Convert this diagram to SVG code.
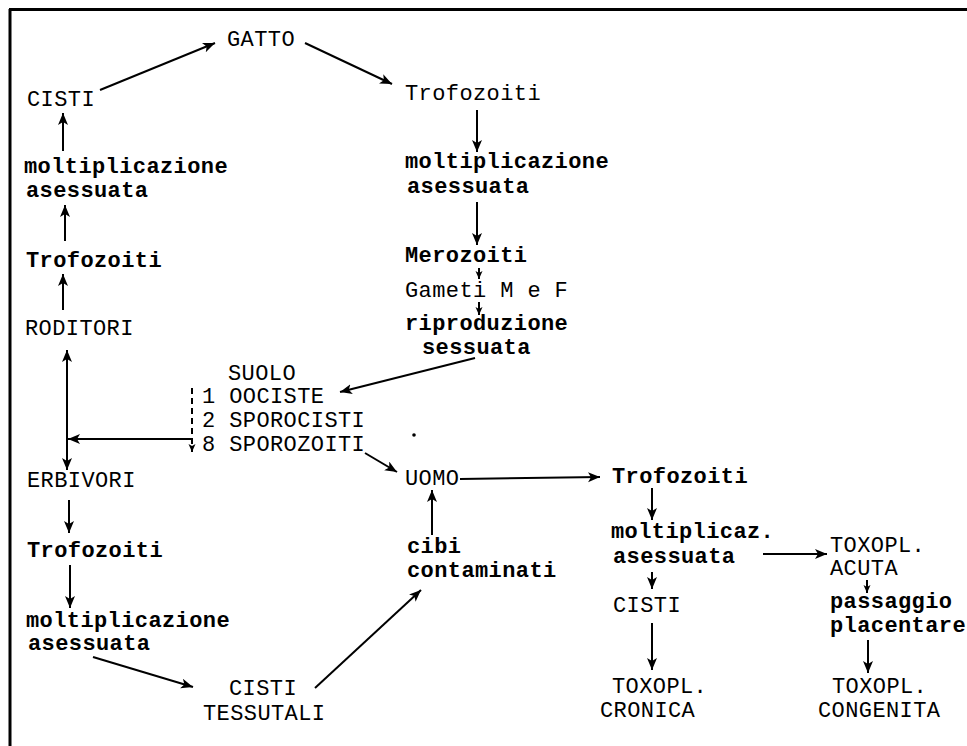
<svg xmlns="http://www.w3.org/2000/svg" width="967" height="746" viewBox="0 0 967 746">
<defs>
<marker id="ah" markerUnits="userSpaceOnUse" markerWidth="14" markerHeight="12" refX="12" refY="5" orient="auto-start-reverse">
<path d="M0,0 L12,5 L0,10 L3,5 z" fill="#000"/>
</marker>
<marker id="ahs" markerUnits="userSpaceOnUse" markerWidth="10" markerHeight="8" refX="8" refY="3.5" orient="auto">
<path d="M0,0 L8,3.5 L0,7 L2,3.5 z" fill="#000"/>
</marker>
</defs>
<style>
text{font-family:"Liberation Mono","DejaVu Sans Mono",monospace;font-size:22px;fill:#000;letter-spacing:0.4px}
.b{font-weight:bold}
.c line,.c path{stroke:#000;stroke-width:2;fill:none}
</style>
<rect width="967" height="746" fill="#fff"/>
<g id="frame">
<line x1="9" y1="9.5" x2="967" y2="9.5" stroke="#000" stroke-width="3"/>
<line x1="10" y1="9" x2="10" y2="746" stroke="#000" stroke-width="3"/>
</g>
<g class="c" id="connectors">
<line x1="100" y1="90" x2="215" y2="43" marker-end="url(#ah)"/>
<line x1="305" y1="43" x2="392" y2="84" marker-end="url(#ah)"/>
<line x1="63" y1="151" x2="63" y2="113" marker-end="url(#ah)"/>
<line x1="65" y1="241" x2="65" y2="205" marker-end="url(#ah)"/>
<line x1="63" y1="310" x2="63" y2="274" marker-end="url(#ah)"/>
<line x1="67" y1="350" x2="67" y2="470" marker-start="url(#ah)" marker-end="url(#ah)"/>
<line x1="192" y1="439" x2="68" y2="439" marker-end="url(#ah)"/>
<line x1="192" y1="388" x2="192" y2="452" stroke-dasharray="6,4" marker-end="url(#ahs)"/>
<line x1="69" y1="500" x2="69" y2="533" marker-end="url(#ah)"/>
<line x1="70" y1="565" x2="70" y2="608" marker-end="url(#ah)"/>
<line x1="93" y1="657" x2="193" y2="687" marker-end="url(#ah)"/>
<line x1="315" y1="688" x2="421" y2="590" marker-end="url(#ah)"/>
<line x1="432" y1="535" x2="432" y2="490" marker-end="url(#ah)"/>
<line x1="365" y1="453" x2="397" y2="472" marker-end="url(#ah)"/>
<line x1="475" y1="358" x2="340" y2="392" marker-end="url(#ah)"/>
<line x1="477" y1="110" x2="477" y2="152" marker-end="url(#ah)"/>
<line x1="477" y1="202" x2="477" y2="245" marker-end="url(#ah)"/>
<line x1="479" y1="268" x2="479" y2="279" marker-end="url(#ahs)"/>
<line x1="479" y1="302" x2="479" y2="315" marker-end="url(#ahs)"/>
<line x1="460" y1="479" x2="600" y2="477" marker-end="url(#ah)"/>
<line x1="652" y1="488" x2="652" y2="520" marker-end="url(#ah)"/>
<line x1="652" y1="572" x2="652" y2="589" marker-end="url(#ah)"/>
<line x1="652" y1="623" x2="652" y2="670" marker-end="url(#ah)"/>
<line x1="763" y1="554" x2="827" y2="554" marker-end="url(#ah)"/>
<line x1="867" y1="580" x2="867" y2="593" marker-end="url(#ahs)"/>
<line x1="868" y1="640" x2="868" y2="673" marker-end="url(#ah)"/>
</g>
<g id="gatto"><text x="227" y="46">GATTO</text></g>
<g id="cisti-l"><text x="27" y="106">CISTI</text></g>
<g id="molt-l1"><text class="b" x="24" y="173">moltiplicazione</text><text class="b" x="26" y="197">asessuata</text></g>
<g id="trofo-l1"><text class="b" x="26" y="267">Trofozoiti</text></g>
<g id="roditori"><text x="25" y="335">RODITORI</text></g>
<g id="suolo">
<text x="228" y="380">SUOLO</text>
<text x="202" y="403">1 OOCISTE</text>
<text x="202" y="427">2 SPOROCISTI</text>
<text x="202" y="451">8 SPOROZOITI</text>
</g>
<circle cx="414" cy="435" r="1.8" fill="#000"/>
<g id="erbivori"><text x="27" y="487">ERBIVORI</text></g>
<g id="trofo-l2"><text class="b" x="27" y="557">Trofozoiti</text></g>
<g id="molt-l2"><text class="b" x="26" y="627">moltiplicazione</text><text class="b" x="28" y="650">asessuata</text></g>
<g id="cisti-tess"><text x="229" y="695">CISTI</text><text x="203" y="720">TESSUTALI</text></g>
<g id="uomo"><text x="405" y="485">UOMO</text></g>
<g id="cibi"><text class="b" x="407" y="553">cibi</text><text class="b" x="407" y="577">contaminati</text></g>
<g id="trofo-r1"><text x="405" y="100">Trofozoiti</text></g>
<g id="molt-r1"><text class="b" x="405" y="168">moltiplicazione</text><text class="b" x="407" y="193">asessuata</text></g>
<g id="merozoiti"><text class="b" x="405" y="262">Merozoiti</text></g>
<g id="gameti"><text x="405" y="297">Gameti M e F</text></g>
<g id="ripro"><text class="b" x="405" y="330">riproduzione</text><text class="b" x="422" y="354">sessuata</text></g>
<g id="trofo-r2"><text class="b" x="612" y="483">Trofozoiti</text></g>
<g id="molt-r2"><text class="b" x="611" y="538">moltiplicaz.</text><text class="b" x="613" y="563">asessuata</text></g>
<g id="cisti-r"><text x="613" y="612">CISTI</text></g>
<g id="cronica"><text x="612" y="693">TOXOPL.</text><text x="600" y="717">CRONICA</text></g>
<g id="acuta"><text x="830" y="552">TOXOPL.</text><text x="830" y="575">ACUTA</text></g>
<g id="passaggio"><text class="b" x="830" y="608">passaggio</text><text class="b" x="830" y="632">placentare</text></g>
<g id="congenita"><text x="832" y="693">TOXOPL.</text><text x="818" y="717">CONGENITA</text></g>
</svg>
